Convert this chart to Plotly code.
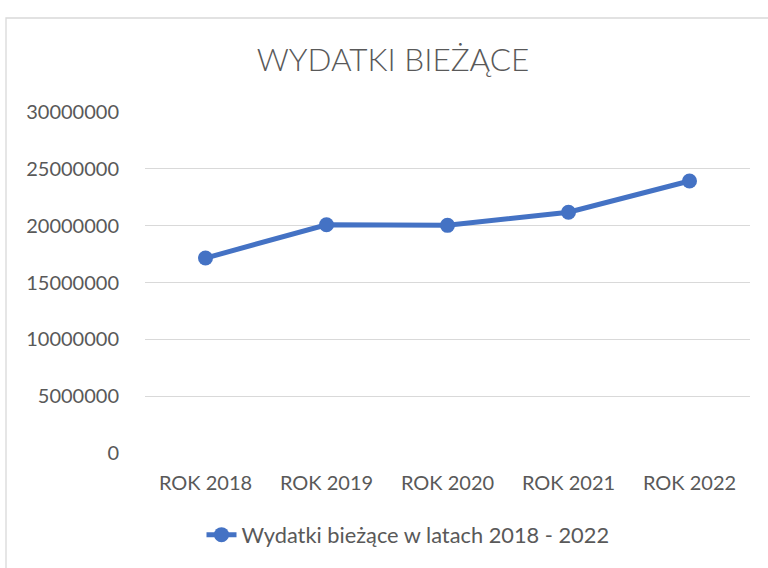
import plotly.graph_objects as go

categories = ["ROK 2018", "ROK 2019", "ROK 2020", "ROK 2021", "ROK 2022"]
values = [17150000, 20080000, 20030000, 21180000, 23930000]
series_name = "Wydatki bieżące w latach 2018 - 2022"
title_text = "WYDATKI BIEŻĄCE"
y_ticks = [0, 5000000, 10000000, 15000000, 20000000, 25000000, 30000000]

W, H = 768, 568
L, R, T, B = 145, 18, 112, 115
pw, ph = W - L - R, H - T - B

fig = go.Figure()
fig.add_trace(go.Scatter(
    x=categories, y=values, name=series_name, mode="lines+markers",
    line=dict(color="#4472C4", width=5),
    marker=dict(color="#4472C4", size=15),
))

fig.update_layout(
    width=W, height=H,
    margin=dict(l=L, r=R, t=T, b=B, autoexpand=False),
    paper_bgcolor="white", plot_bgcolor="white",
    font=dict(family="Lato, Liberation Sans, sans-serif", color="#595959", size=20),
    title=dict(text=title_text, x=393 / W, xanchor="center", y=1 - 60 / H, yanchor="middle",
               font=dict(size=31.5, color="#595959", family="Lato, sans-serif", weight=300)),
    xaxis=dict(type="category", range=[-0.5, 4.5], showgrid=False, zeroline=False,
               showline=False, ticks="", ticklabelstandoff=16,
               tickfont=dict(size=20, color="#595959")),
    yaxis=dict(range=[0, 30000000], tickvals=y_ticks, ticktext=[str(v) for v in y_ticks],
               showgrid=True, gridcolor="#D9D9D9", gridwidth=1.3, zeroline=False,
               showline=False, ticks="", ticklabelstandoff=25,
               tickfont=dict(size=20, color="#595959")),
    showlegend=True,
    legend=dict(orientation="h", x=(408 - L) / pw, xanchor="center",
                y=(T + ph - 535) / ph, yanchor="middle",
                font=dict(size=21.8, color="#595959"),
                bgcolor="rgba(0,0,0,0)"),
)

fig.add_shape(type="rect", xref="paper", yref="paper",
              x0=(6 - L) / pw, x1=(W + 10 - L) / pw,
              y0=(T + ph - (H + 10)) / ph, y1=(T + ph - 18) / ph,
              line=dict(color="#D9D9D9", width=1.3), fillcolor="rgba(0,0,0,0)", layer="below")

fig.write_html("out.html", config={"displayModeBar": False})

with open("out.html", "r", encoding="utf-8") as f:
    html = f.read()
html = html.replace("<body>", '<body style="margin:0;overflow:hidden">', 1)
with open("out.html", "w", encoding="utf-8") as f:
    f.write(html)
